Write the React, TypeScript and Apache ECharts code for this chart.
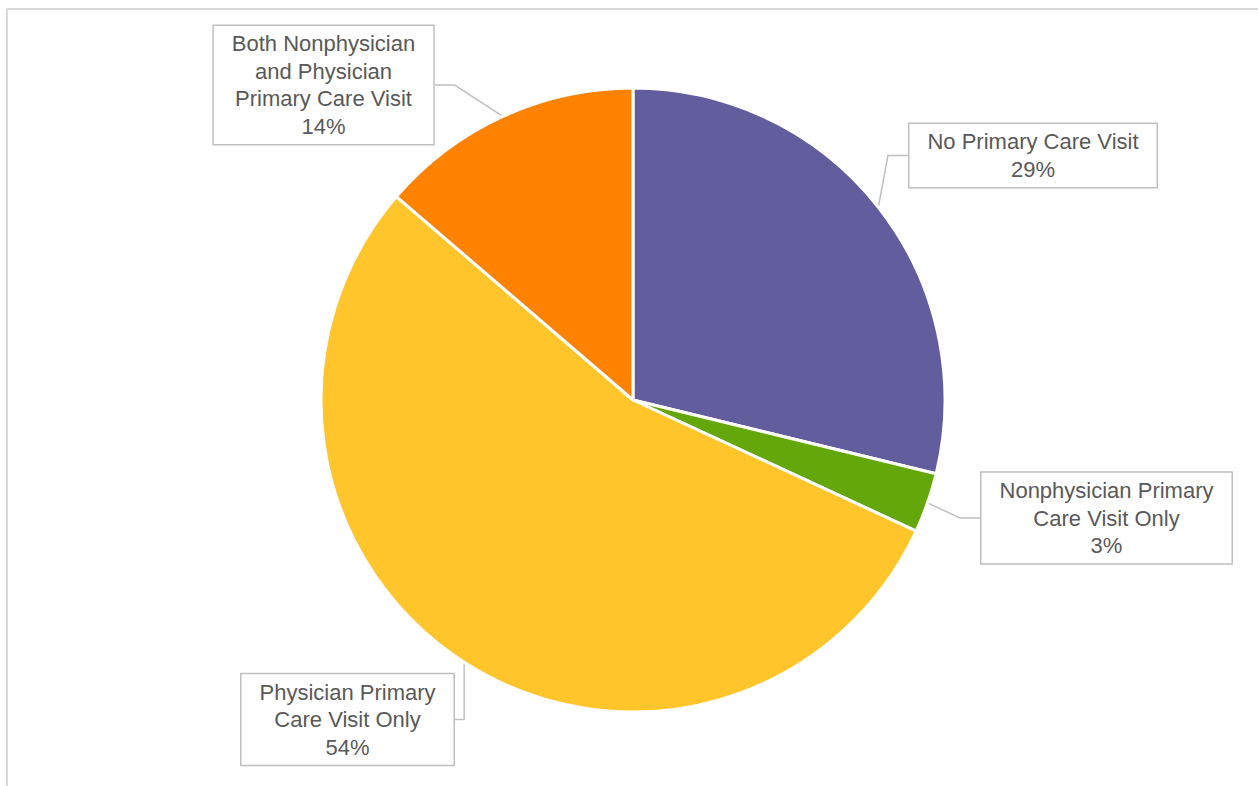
import React, { useEffect, useRef } from "react";
import * as echarts from "echarts";

const categories = [
  "No Primary Care Visit",
  "Nonphysician Primary\nCare Visit Only",
  "Physician Primary\nCare Visit Only",
  "Both Nonphysician\nand Physician\nPrimary Care Visit",
];
const values = [28.8, 3.1, 54.4, 13.7];
const colors = ["#625D9C", "#64A70B", "#FFC52B", "#FF8200"];

export default function App() {
  const ref = useRef<HTMLDivElement>(null);
  useEffect(() => {
    if (!ref.current) return;
    const chart = echarts.init(ref.current, undefined, { renderer: "svg" });
    const labelCenters: [number, number][] = [
      [1033, 155.5],
      [1106.5, 518],
      [347.5, 719.5],
      [323.5, 85],
    ];
    chart.setOption({
      animation: false,
      backgroundColor: "#ffffff",
      graphic: [
        { type: "line", shape: { x1: 7, y1: 9, x2: 1258, y2: 9 }, style: { stroke: "#d9d9d9", lineWidth: 2 }, silent: true },
        { type: "line", shape: { x1: 7, y1: 9, x2: 7, y2: 786 }, style: { stroke: "#d9d9d9", lineWidth: 2 }, silent: true },
      ],
      series: [
        {
          type: "pie",
          center: [633, 400],
          radius: 312,
          startAngle: 90,
          clockwise: true,
          avoidLabelOverlap: false,
          data: categories.map((name, i) => ({
            name,
            value: values[i],
            itemStyle: { color: colors[i] },
          })),
          itemStyle: { borderColor: "#ffffff", borderWidth: 3 },
          label: {
            show: true,
            position: "outside",
            formatter: (p: any) => `${p.name}\n${Math.round(p.percent)}%`,
            fontFamily: "Liberation Sans, Arial, sans-serif",
            fontSize: 22,
            lineHeight: 27.5,
            color: "#595959",
            align: "center",
            backgroundColor: "#ffffff",
            borderColor: "#bfbfbf",
            borderWidth: 1.5,
            padding: [4, 18, 4, 18],
          },
          labelLine: {
            show: true,
            length: 20,
            length2: 20,
            lineStyle: { color: "#bfbfbf", width: 1.5 },
          },
          labelLayout: (params: any) => {
            const c = labelCenters[params.dataIndex];
            return { x: c[0], y: c[1], align: "center", verticalAlign: "middle" };
          },
        },
      ],
    });
    return () => chart.dispose();
  }, []);
  return (
    <div
      ref={ref}
      style={{ position: "fixed", left: 0, top: 0, width: 1258, height: 786 }}
    />
  );
}
